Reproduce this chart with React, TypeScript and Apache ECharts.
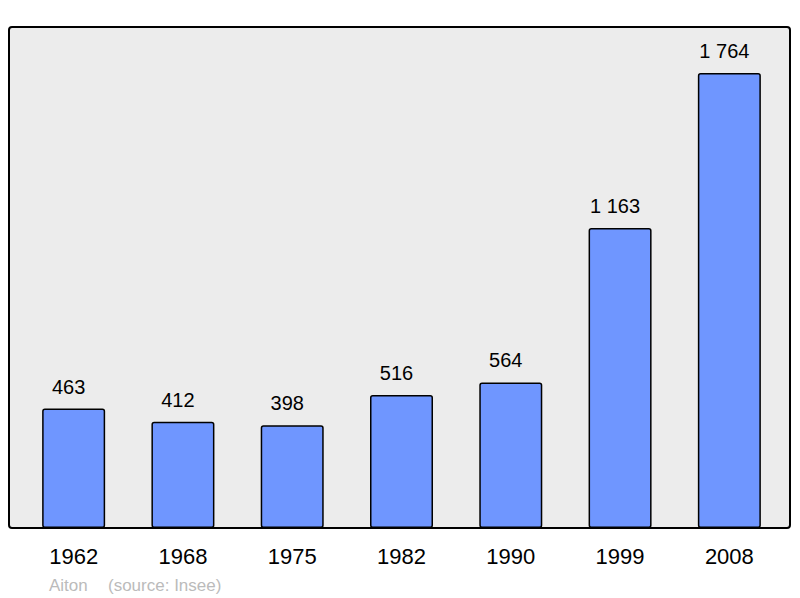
import React, { useEffect, useRef } from "react";
import * as echarts from "echarts";

const years = ["1962", "1968", "1975", "1982", "1990", "1999", "2008"];
const population = [463, 412, 398, 516, 564, 1163, 1764];
const footerName = "Aiton";
const footerSource = "(source: Insee)";

const fmt = (v: number) => {
  const s = String(v);
  return s.length > 3 ? s.slice(0, s.length - 3) + " " + s.slice(-3) : s;
};

export default function App() {
  const ref = useRef<HTMLDivElement>(null);
  useEffect(() => {
    document.body.style.margin = "0";
    const chart = echarts.init(ref.current!, null, { renderer: "svg" });
    const font = "'Liberation Sans', Arial, sans-serif";
    chart.setOption({
      animation: false,
      textStyle: { fontFamily: font },
      grid: { left: 19, right: 16, top: 27, bottom: 70 },
      xAxis: {
        type: "category",
        data: years,
        axisLine: { show: false },
        axisTick: { show: false },
        axisLabel: { fontSize: 22, color: "#000", margin: 17, fontFamily: font },
      },
      yAxis: {
        type: "value",
        min: 0,
        max: 1942,
        show: false,
        splitLine: { show: false },
      },
      graphic: [
        {
          type: "rect",
          z: -10,
          silent: true,
          shape: { x: 9, y: 27, width: 781, height: 501, r: 3 },
          style: { fill: "#ececec", stroke: "#000", lineWidth: 2 },
        },
        {
          type: "text",
          x: 49,
          y: 594,
          style: { text: footerName, fill: "#bbbbbb", fontSize: 17, fontFamily: font, textVerticalAlign: "bottom" },
        },
        {
          type: "text",
          x: 108,
          y: 594,
          style: { text: footerSource, fill: "#bbbbbb", fontSize: 17, fontFamily: font, textVerticalAlign: "bottom" },
        },
      ],
      series: [
        {
          type: "bar",
          data: population,
          barWidth: 63,
          itemStyle: { color: "#6f96ff", borderColor: "#000", borderWidth: 1.5, borderRadius: 2 },
          label: {
            show: true,
            position: "top",
            distance: 12,
            offset: [-5, 0],
            fontSize: 20,
            color: "#000",
            fontFamily: font,
            formatter: (p: any) => fmt(p.value),
          },
        },
      ],
    });
    return () => chart.dispose();
  }, []);
  return <div ref={ref} style={{ width: 800, height: 598 }} />;
}
